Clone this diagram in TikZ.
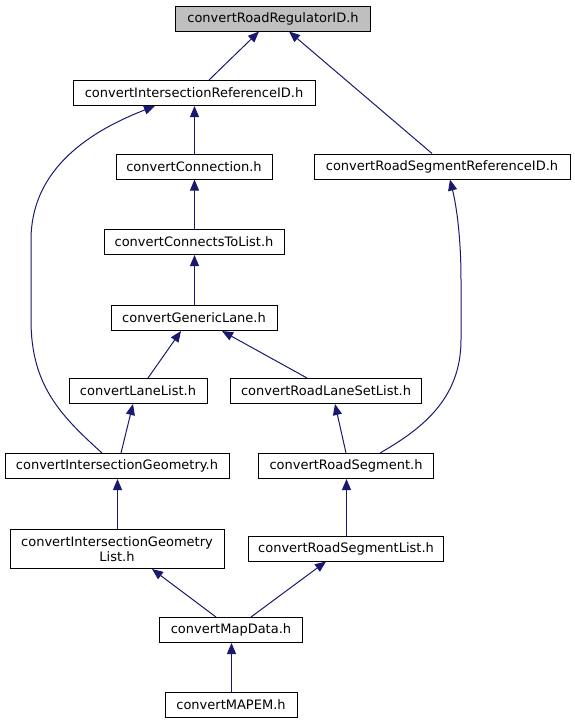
\documentclass[tikz,border=0pt]{standalone}
\usepackage{fontspec}
\setmainfont{DejaVu Sans}
\usetikzlibrary{arrows.meta}
\definecolor{edgeblue}{HTML}{191970}
\definecolor{topgray}{HTML}{BFBFBF}
\begin{document}
\begin{tikzpicture}[x=1pt,y=-1pt,
  box/.style={draw=black, line width=1pt, fill=white, minimum height=25pt, inner sep=0pt, align=center,
    font=\fontsize{13}{15}\selectfont},
  edge/.style={draw=edgeblue, line width=1pt, -{Triangle[length=11pt,width=9pt]}, fill=none}]
\useasboundingbox (0,0) rectangle (575,724);
\node[box, fill=topgray, minimum width=195pt] (reg) at (273,18.5) {convertRoadRegulatorID.h};
\node[box, minimum width=242pt] (ired) at (194,93) {convertIntersectionReferenceID.h};
\node[box, minimum width=156pt] (conn) at (194,166.5) {convertConnection.h};
\node[box, minimum width=256pt] (rsref) at (442,166.5) {convertRoadSegmentReferenceID.h};
\node[box, minimum width=180pt] (ctl) at (194,242) {convertConnectsToList.h};
\node[box, minimum width=166pt] (gl) at (194,318) {convertGenericLane.h};
\node[box, minimum width=138pt] (ll) at (138,391) {convertLaneList.h};
\node[box, minimum width=191pt] (rlsl) at (326,391) {convertRoadLaneSetList.h};
\node[box, minimum width=224pt] (ig) at (117,466) {convertIntersectionGeometry.h};
\node[box, minimum width=175pt] (rs) at (346,466) {convertRoadSegment.h};
\node[box, minimum width=214pt, minimum height=39pt] (igl) at (117,549) {convertIntersectionGeometry\\List.h};
\node[box, minimum width=195pt] (rsl) at (346,548.5) {convertRoadSegmentList.h};
\node[box, minimum width=143pt] (md) at (231,630) {convertMapData.h};
\node[box, minimum width=132pt] (mapem) at (231,705) {convertMAPEM.h};

\draw[edge] ([xshift=15pt]ired.north) -- ([xshift=-14pt]reg.south);
\draw[edge] ([xshift=-10pt]rsref.north) -- ([xshift=16pt]reg.south);
\draw[edge] ([xshift=0.5pt]conn.north) -- ([xshift=0.5pt]ired.south);
\draw[edge] ([xshift=-15pt]ig.north) .. controls (60,415) and (31,385) .. (31,320) -- (31,240) .. controls (31,175) and (80,135) .. ([xshift=-39pt]ired.south);
\draw[edge] ([xshift=0.5pt]ctl.north) -- ([xshift=0.5pt]conn.south);
\draw[edge] ([xshift=0.5pt]gl.north) -- ([xshift=0.5pt]ctl.south);
\draw[edge] ([xshift=10pt]ll.north) -- ([xshift=-13pt]gl.south);
\draw[edge] ([xshift=-19pt]rlsl.north) -- ([xshift=28pt]gl.south);
\draw[edge] ([xshift=4pt]ig.north) -- ([xshift=-5pt]ll.south);
\draw[edge] (rs.north) -- ([xshift=9pt]rlsl.south);
\draw[edge] ([xshift=34pt]rs.north) .. controls (420,430) and (461,400) .. (461,340) -- (461,280) .. controls (461,230) and (455,200) .. ([xshift=8pt]rsref.south);
\draw[edge] ([xshift=0.5pt]igl.north) -- ([xshift=0.5pt]ig.south);
\draw[edge] ([xshift=0.5pt]rsl.north) -- ([xshift=0.5pt]rs.south);
\draw[edge] ([xshift=-15pt]md.north) -- ([xshift=35pt]igl.south);
\draw[edge] ([xshift=20pt]md.north) -- ([xshift=-20pt]rsl.south);
\draw[edge] ([xshift=0.5pt]mapem.north) -- ([xshift=0.5pt]md.south);
\end{tikzpicture}
\end{document}
